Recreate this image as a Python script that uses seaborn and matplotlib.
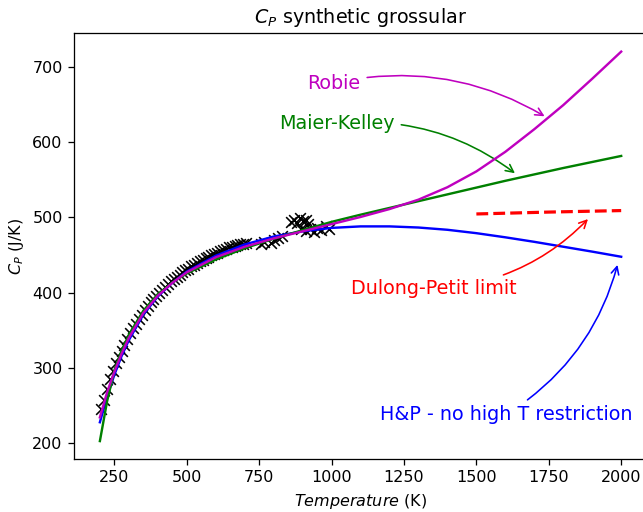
import numpy as np
import pandas as pd
import matplotlib
matplotlib.use("Agg")
import matplotlib.pyplot as plt
import seaborn as sns

# ---- experimental data (black crosses) ----
data_T = [205, 215, 225, 235, 245, 255, 265, 275, 285, 295, 305, 315, 325, 335, 345,
          355, 365, 375, 385, 395, 405, 415, 425, 435, 445, 455, 465, 475, 485, 495,
          505, 515, 525, 535, 545, 555, 565, 575, 585, 595, 605, 615, 625, 635, 645,
          655, 665, 675, 685, 695, 705,
          757, 768, 790, 800, 815, 830,
          860, 870, 880, 890, 900, 910, 920,
          895, 910, 925, 940, 950, 965, 980, 990]
data_Cp = [246, 258, 272, 285, 296, 306, 315, 323, 331, 339, 346, 353, 359, 365, 371,
           377, 382, 387, 391, 396, 400, 404, 408, 411, 415, 418, 421, 424, 427, 430,
           432, 435, 437, 440, 442, 444, 446, 448, 450, 452, 453, 455, 457, 458, 460,
           461, 462, 463, 464, 465, 466,
           464, 467, 466, 470, 473, 475,
           494, 497, 492, 499, 495, 497, 491,
           485, 482, 484, 481, 486, 483, 488, 485]

# ---- model curves ----
model_T = [200, 225, 250, 275, 300, 350, 400, 450, 500, 600, 700, 800, 900, 1000,
           1100, 1200, 1300, 1400, 1500, 1600, 1700, 1800, 1900, 2000]
robie_Cp = [234.5, 268, 295, 319, 340, 373, 396, 413, 427, 447, 461, 472, 481.5, 491,
            500.5, 511, 523.5, 540, 561, 587, 617, 649, 684, 720]
mk_Cp = [203, 256, 297, 323, 344, 376, 398, 413.5, 425.5, 444, 459, 471.5, 483, 494,
         503.5, 512.5, 521.5, 530.5, 539.5, 548.5, 557, 565.5, 573.5, 581.5]
hp_Cp = [228, 262, 291, 316, 337, 371, 395, 413, 428, 449, 464, 474.5, 481.5, 486,
         488, 488, 486.5, 483.5, 479, 473.5, 467.5, 461, 454.5, 447.7]
dp_T = [1500, 1750, 2000]
dp_Cp = [504.5, 507, 509]

DPI = 115
fig = plt.figure(figsize=(643 / DPI, 512 / DPI), dpi=DPI)
ax = fig.add_axes([0.1148, 0.1029, 0.8918, 0.8332])

sns.scatterplot(x=data_T, y=data_Cp, marker="x", color="k", s=45, linewidth=1.0, ax=ax, zorder=2)
sns.lineplot(x=model_T, y=hp_Cp, color="b", lw=1.5, ax=ax, zorder=3)
sns.lineplot(x=model_T, y=mk_Cp, color="g", lw=1.5, ax=ax, zorder=3)
sns.lineplot(x=model_T, y=robie_Cp, color="m", lw=1.5, ax=ax, zorder=4)
sns.lineplot(x=dp_T, y=dp_Cp, color="r", lw=2, linestyle="--", ax=ax, zorder=4)

ax.set_xlim(110, 2090)
ax.set_ylim(178.8, 745.1)
ax.set_xticks([250, 500, 750, 1000, 1250, 1500, 1750, 2000])
ax.set_yticks([200, 300, 400, 500, 600, 700])

ax.set_title("$C_P$ synthetic grossular", fontsize=12)
ax.set_xlabel("$Temperature$ (K)", fontsize=10)
ax.set_ylabel("$C_P$ (J/K)", fontsize=10)

ann = [
    ("Robie", (1745, 632), (1009, 671), "m", -0.2),
    ("Maier-Kelley", (1642, 556), (1019, 617), "g", -0.2),
    ("Dulong-Petit limit", (1893, 500.8), (1354, 398), "r", 0.2),
    ("H&P - no high T restriction", (1990, 441), (1603, 231), "b", 0.2),
]
for txt, xy, xyt, c, rad in ann:
    ax.annotate(txt, xy=xy, xytext=xyt, color=c, fontsize=12, ha="center", va="baseline",
                arrowprops=dict(arrowstyle="->", color=c, lw=1,
                                connectionstyle=f"arc3,rad={rad}"))

fig.savefig("out.png", dpi=DPI)
